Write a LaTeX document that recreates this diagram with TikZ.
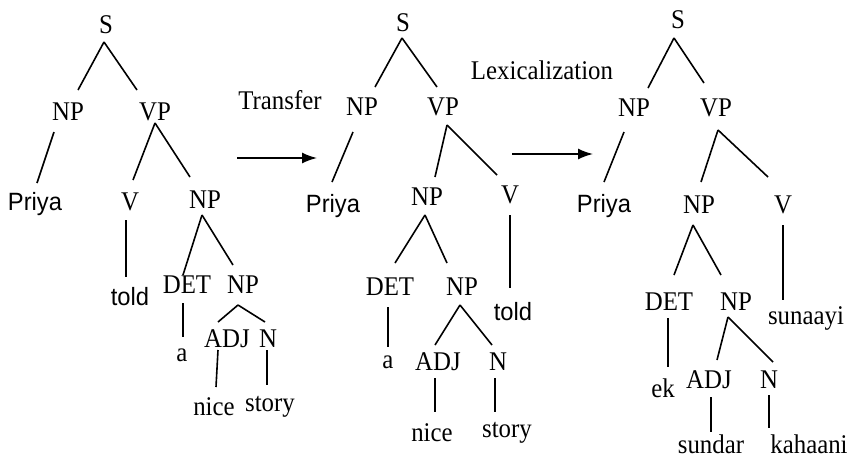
\documentclass[tikz,border=0pt]{standalone}
\usepackage{fontspec}
\setmainfont{Liberation Serif}[FakeStretch=0.92]
\newfontfamily\arialish{Liberation Sans}[FakeStretch=0.95]
\usetikzlibrary{arrows.meta}
\tikzset{
  lbl/.style={inner sep=0pt, font=\fontsize{27}{30}\selectfont},
  slbl/.style={inner sep=0pt, font=\arialish\fontsize{25}{30}\selectfont},
  branch/.style={line width=1.6pt},
  flow/.style={line width=1.6pt, -{Latex[length=15pt,width=11pt]}}
}
\newcommand\E[6]{\draw[branch] ([shift={(#2)}]#1.center) -- ([shift={(#5)}]#4.center);}
\begin{document}
\begin{tikzpicture}[x=1pt,y=-1pt]
\useasboundingbox (0,0) rectangle (856,459);
% ---------- Tree 1
\node[lbl] (s1) at (106,25) {S};
\node[lbl] (np1) at (68,112) {NP};
\node[lbl] (vp1) at (155,112) {VP};
\node[slbl] (priya1) at (35,204) {Priya};
\node[lbl] (v1) at (130,202) {V};
\node[lbl] (np1b) at (205,200) {NP};
\node[slbl] (told1) at (130,297) {told};
\node[lbl] (det1) at (187,285) {DET};
\node[lbl] (np1c) at (243,285) {NP};
\node[lbl] (a1) at (182,355) {a};
\node[lbl] (adj1) at (227,339) {ADJ};
\node[lbl] (n1) at (268,339) {N};
\node[lbl] (nice1) at (214,407) {nice};
\node[lbl] (story1) at (270,407) {story};
\E{s1}{-2,17}{}{np1}{10,-22}{}
\E{s1}{-2,17}{}{vp1}{-18,-22}{}
\E{np1}{-14,20}{}{priya1}{2,-21}{}
\E{vp1}{0,11}{}{v1}{3,-22}{}
\E{vp1}{0,11}{}{np1b}{-15,-23}{}
\E{v1}{-4,18}{}{told1}{-4,-20}{}
\E{np1b}{-3,15}{}{det1}{-4,-10}{}
\E{np1b}{-3,15}{}{np1c}{-10,-20}{}
\E{det1}{-4,18}{}{a1}{1,-18}{}
\E{np1c}{-5,20}{}{adj1}{-9,-17}{}
\E{np1c}{-5,20}{}{n1}{-3,-17}{}
\E{adj1}{-9,11}{}{nice1}{2,-20}{}
\E{n1}{-1,11}{}{story1}{-3,-22}{}
% ---------- Transfer arrow
\node[lbl] (transfer) at (280,100) {Transfer};
\coordinate (t1s) at (237,158);
\coordinate (t1e) at (317,158);
\draw[flow] (t1s) -- (t1e);
% ---------- Tree 2
\node[lbl] (s2) at (403,23) {S};
\node[lbl] (np2) at (362,107) {NP};
\node[lbl] (vp2) at (443,107) {VP};
\node[slbl] (priya2) at (333,206) {Priya};
\node[lbl] (np2b) at (427,197) {NP};
\node[lbl] (v2) at (510,195) {V};
\node[lbl] (det2) at (390,287) {DET};
\node[lbl] (np2c) at (462,287) {NP};
\node[slbl] (told2) at (513,312) {told};
\node[lbl] (a2) at (388,362) {a};
\node[lbl] (adj2) at (438,362) {ADJ};
\node[lbl] (n2) at (498,362) {N};
\node[lbl] (nice2) at (432,433) {nice};
\node[lbl] (story2) at (507,433) {story};
\E{s2}{-1,15}{}{np2}{13,-20}{}
\E{s2}{-1,15}{}{vp2}{-6,-20}{}
\E{np2}{-9,25}{}{priya2}{-1,-24}{}
\E{vp2}{4,18}{}{np2b}{8,-20}{}
\E{vp2}{4,18}{}{v2}{-13,-20}{}
\E{np2b}{-2,18}{}{det2}{5,-24}{}
\E{np2b}{-2,18}{}{np2c}{-15,-24}{}
\E{v2}{0,20}{}{told2}{-3,-24}{}
\E{det2}{-2,20}{}{a2}{0,-15}{}
\E{np2c}{-2,18}{}{adj2}{-3,-17}{}
\E{np2c}{-2,18}{}{n2}{-6,-17}{}
\E{adj2}{-3,16}{}{nice2}{3,-21}{}
\E{n2}{-3,16}{}{story2}{-12,-21}{}
% ---------- Lexicalization arrow
\node[lbl] (lex) at (542,70) {Lexicalization};
\coordinate (t2s) at (512,154);
\coordinate (t2e) at (593,154);
\draw[flow] (t2s) -- (t2e);
% ---------- Tree 3
\node[lbl] (s3) at (678,20) {S};
\node[lbl] (np3) at (634,108) {NP};
\node[lbl] (vp3) at (716,108) {VP};
\node[slbl] (priya3) at (604,206) {Priya};
\node[lbl] (np3b) at (699,205) {NP};
\node[lbl] (v3) at (783,205) {V};
\node[lbl] (det3) at (669,302) {DET};
\node[lbl] (np3c) at (736,302) {NP};
\node[lbl] (sunaayi3) at (806,318) {sunaayi};
\node[lbl] (ek3) at (663,388) {ek};
\node[lbl] (adj3) at (709,380) {ADJ};
\node[lbl] (n3) at (769,380) {N};
\node[lbl] (sundar3) at (711,444) {sundar};
\node[lbl] (kahaani3) at (809,444) {kahaani};
\E{s3}{-4,18}{}{np3}{14,-20}{}
\E{s3}{-4,18}{}{vp3}{-12,-25}{}
\E{np3}{-10,24}{}{priya3}{0,-24}{}
\E{vp3}{2,22}{}{np3b}{2,-23}{}
\E{vp3}{2,22}{}{v3}{-15,-28}{}
\E{np3b}{-6,20}{}{det3}{5,-27}{}
\E{np3b}{-6,20}{}{np3c}{-15,-27}{}
\E{v3}{0,20}{}{sunaayi3}{-23,-18}{}
\E{det3}{-1,16}{}{ek3}{5,-21}{}
\E{np3c}{-8,15}{}{adj3}{8,-20}{}
\E{np3c}{-8,15}{}{n3}{4,-18}{}
\E{adj3}{2,17}{}{sundar3}{0,-12}{}
\E{n3}{0,15}{}{kahaani3}{-40,-16}{}
\end{tikzpicture}
\end{document}
